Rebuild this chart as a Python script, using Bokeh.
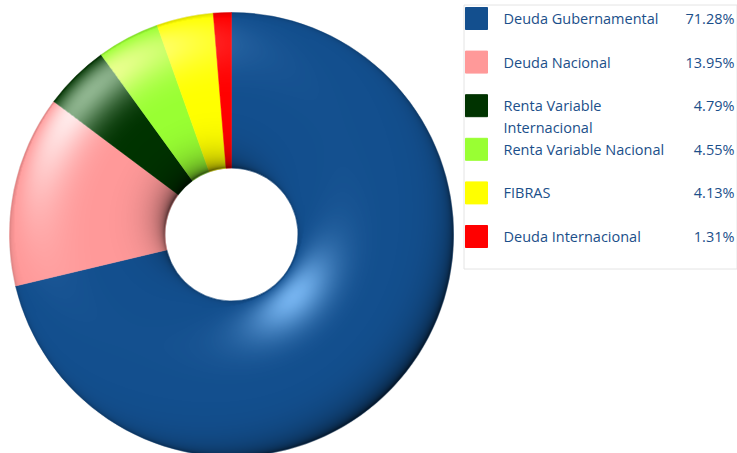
import numpy as np
from bokeh.plotting import figure
from bokeh.models import Range1d, ColumnDataSource
from bokeh.embed import file_html
from bokeh.resources import INLINE
from bokeh.core.properties import value

# ---- data ----
categories = ["Deuda Gubernamental", "Deuda Nacional", "Renta Variable\nInternacional",
              "Renta Variable Nacional", "FIBRAS", "Deuda Internacional"]
shares = [71.28, 13.95, 4.79, 4.55, 4.13, 1.31]
colors = ["#134f8e", "#ff9999", "#003300", "#99ff33", "#ffff00", "#ff0000"]
glints = ["#86c4ff", "#ffffff", "#a8cca8", "#ffffa8", "#ffffc8", "#ff9090"]

W, H = 737, 453
p = figure(width=W, height=H, x_range=Range1d(0, W), y_range=Range1d(0, H),
           output_backend="svg", toolbar_location=None,
           x_axis_location=None, y_axis_location=None, min_border=0)
p.grid.visible = False
p.outline_line_color = None
p.background_fill_color = "white"
p.border_fill_color = "white"

# ---- donut ----
cx, cy = 231.0, H - 234.0
r_out, r_in = 222.0, 66.5
frac = np.array(shares) / sum(shares)
cum = np.concatenate([[0.0], np.cumsum(frac)])
src = ColumnDataSource(dict(start=np.pi / 2 - 2 * np.pi * cum[1:],
                            end=np.pi / 2 - 2 * np.pi * cum[:-1],
                            color=colors))
p.annular_wedge(x=cx, y=cy, inner_radius=r_in, outer_radius=r_out,
                start_angle="start", end_angle="end", fill_color="color",
                line_color="color", line_width=0.5, source=src)

# ---- torus-like shading overlay ----
size = int(2 * r_out) + 4
x0, y0 = cx - size / 2, cy - size / 2
xs = x0 + np.arange(size) + 0.5
ys = y0 + np.arange(size) + 0.5
X, Y = np.meshgrid(xs, ys)
dx, dy = X - cx, Y - cy
r = np.hypot(dx, dy)
Rm, a = (r_out + r_in) / 2, (r_out - r_in) / 2
u = np.clip((r - Rm) / a, -1, 1)
phi = np.arctan2(dy, dx)
nx, ny, nz = u * np.cos(phi), u * np.sin(phi), np.sqrt(1 - u ** 2)
Hv = np.array([-0.51, 0.51, 0.69]); Hv /= np.linalg.norm(Hv)
lam = nx * Hv[0] + ny * Hv[1] + nz * Hv[2]
spec = np.clip(lam, 0, 1) ** 11 * 0.85
dark = 0.75 * np.clip((0.69 - lam) / 1.41, 0, 1) ** 2.5 + 0.3 * (1 - nz) ** 6
dark = np.clip(dark, 0, 0.95)
cov = np.clip(r_out - r + 0.5, 0, 1) * np.clip(r - r_in + 0.5, 0, 1)

t = np.mod(np.pi / 2 - phi, 2 * np.pi) / (2 * np.pi)
idx = np.clip(np.searchsorted(cum[1:], t, side="right"), 0, len(shares) - 1)
grgb = np.array([[int(c[i:i + 2], 16) for i in (1, 3, 5)] for c in glints])
hc = grgb[idx]

img = np.zeros((size, size), dtype=np.uint32)
view = img.view(dtype=np.uint8).reshape((size, size, 4))
lit = spec > dark
for ch in range(3):
    view[..., ch] = np.where(lit, hc[..., ch], 0).astype(np.uint8)
view[..., 3] = (np.where(lit, spec, dark) * cov * 255).astype(np.uint8)
p.image_rgba(image=[img], x=x0, y=y0, dw=size, dh=size)

# ---- legend ----
row_y = [18 + i * 43.6 for i in range(len(categories))]
p.quad(left=463.5, right=736.5, top=H - 4.5, bottom=H - 268.5,
       fill_color=None, line_color="#e4e4e4", line_width=1)
p.rect(x=476, y=[H - y for y in row_y], width=22, height=22,
       fill_color=colors, line_color=colors)
lx, ly, lt = [], [], []
for name, y in zip(categories, row_y):
    for k, line in enumerate(name.split("\n")):
        lx.append(503); ly.append(H - (y + 22 * k)); lt.append(line)
p.text(x=lx, y=ly, text=lt, text_font=value("Open Sans"), text_font_size="14.5px",
       text_color="#1b4f8a", text_baseline="middle", text_align="left")
p.text(x=734, y=[H - y for y in row_y], text=[f"{s:.2f}%" for s in shares],
       text_font=value("Open Sans"), text_font_size="14.5px",
       text_color="#1b4f8a", text_baseline="middle", text_align="right")

open("out.html", "w").write(file_html(p, INLINE))
